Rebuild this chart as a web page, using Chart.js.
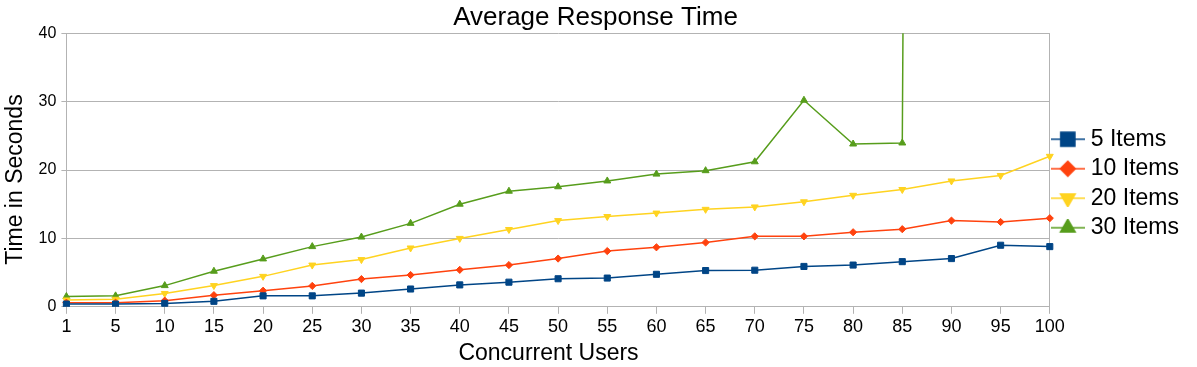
<!DOCTYPE html>
<html>
<head>
<meta charset="utf-8">
<script src="https://cdn.jsdelivr.net/npm/chart.js@4/dist/chart.umd.min.js"></script>
<style>
    html, body { margin: 0; padding: 0; background: #fff; }
    #wrap { width: 1197px; height: 367px; position: relative; }
</style>
</head>
<body>
<div id="wrap"><canvas id="responseChart"></canvas></div>
<script>
// concurrent users (x categories)
const users = ['1', '5', '10', '15', '20', '25', '30', '35', '40', '45', '50',
               '55', '60', '65', '70', '75', '80', '85', '90', '95', '100'];

// average response time in seconds
const items5  = [0.4, 0.4, 0.5, 0.8, 1.6, 1.6, 2.0, 2.6, 3.2, 3.6, 4.1,
                 4.2, 4.75, 5.3, 5.35, 5.9, 6.1, 6.6, 7.05, 9.0, 8.8];
const items10 = [0.6, 0.6, 0.9, 1.7, 2.35, 3.05, 4.05, 4.65, 5.4, 6.1, 7.05,
                 8.15, 8.7, 9.4, 10.3, 10.3, 10.9, 11.35, 12.6, 12.4, 12.95];
const items20 = [1.0, 1.1, 1.95, 3.1, 4.45, 6.1, 6.9, 8.6, 10.0, 11.3, 12.6,
                 13.2, 13.7, 14.25, 14.6, 15.35, 16.3, 17.15, 18.4, 19.2, 22.0];
// last three points run far off the top of the axis
const items30 = [1.5, 1.6, 3.1, 5.2, 7.0, 8.8, 10.2, 12.2, 15.0, 16.9, 17.55,
                 18.4, 19.4, 19.9, 21.2, 30.2, 23.8, 23.95, 1200, 1300, 1400];

const yTicks = [0, 10, 20, 30, 40];

const gridColor = '#b3b3b3';
const fontFamily = '"Liberation Sans", Arial, sans-serif';

// legend icon: short line with the marker on it (like LibreOffice does)
function legendIcon(color, style, radius, rotation) {
    const c = document.createElement('canvas');
    c.width = 34;
    c.height = 18;
    const g = c.getContext('2d');
    g.strokeStyle = color;
    g.fillStyle = color;
    g.lineWidth = 1.5;
    g.beginPath();
    g.moveTo(0, 9);
    g.lineTo(34, 9);
    g.stroke();
    Chart.helpers.drawPoint(g, { pointStyle: style, radius: radius, rotation: rotation, borderWidth: 1 }, 17, 9);
    return c;
}

function makeSeries(label, data, color, style, radius, rotation, iconRadius) {
    return {
        label: label,
        data: data,
        borderColor: color,
        backgroundColor: color,
        borderWidth: 1.5,
        pointStyle: style,
        pointRadius: radius,
        pointRotation: rotation || 0,
        pointBorderWidth: 1,
        tension: 0,
        icon: legendIcon(color, style, iconRadius, rotation || 0)
    };
}

const ctx = document.getElementById('responseChart').getContext('2d');
new Chart(ctx, {
    type: 'line',
    data: {
        labels: users,
        datasets: [
            makeSeries('5 Items', items5, '#004586', 'rect', 4.3, 0, 10),
            makeSeries('10 Items', items10, '#ff420e', 'rectRot', 3.6, 0, 7.5),
            makeSeries('20 Items', items20, '#ffd320', 'triangle', 4, 180, 8.5),
            makeSeries('30 Items', items30, '#579d1c', 'triangle', 4, 0, 8.5)
        ]
    },
    options: {
        responsive: true,
        maintainAspectRatio: false,
        animation: false,
        layout: { padding: { left: 2, right: 8, top: 0, bottom: 0 } },
        scales: {
            x: {
                grid: {
                    color: c => (c.index === 0 || c.index === users.length - 1) ? gridColor : 'transparent',
                    tickColor: gridColor,
                    tickLength: 7
                },
                border: { color: gridColor },
                ticks: {
                    color: '#000',
                    font: { family: fontFamily, size: 18 },
                    maxRotation: 0,
                    autoSkip: false,
                    padding: 2
                },
                title: {
                    display: true,
                    text: 'Concurrent Users   ',
                    color: '#000',
                    font: { family: fontFamily, size: 23 },
                    padding: { top: 0, bottom: 0 }
                }
            },
            y: {
                min: 0,
                max: 40,
                afterBuildTicks: axis => { axis.ticks = yTicks.map(v => ({ value: v })); },
                grid: { color: gridColor, tickColor: gridColor, tickLength: 5 },
                border: { color: gridColor },
                ticks: {
                    color: '#000',
                    font: { family: fontFamily, size: 16 },
                    padding: 5
                },
                title: {
                    display: true,
                    text: 'Time in Seconds   ',
                    color: '#000',
                    font: { family: fontFamily, size: 23 },
                    padding: { top: 0, bottom: 4 }
                }
            }
        },
        plugins: {
            title: {
                display: true,
                text: 'Average Response Time',
                color: '#000',
                font: { family: fontFamily, size: 26, weight: 'normal' },
                padding: { top: 2, bottom: 0 }
            },
            legend: {
                position: 'right',
                labels: {
                    color: '#000',
                    font: { family: fontFamily, size: 23 },
                    usePointStyle: true,
                    padding: 6.5,
                    generateLabels: chart => {
                        const items = Chart.defaults.plugins.legend.labels.generateLabels(chart);
                        items.forEach(item => {
                            item.pointStyle = chart.data.datasets[item.datasetIndex].icon;
                            item.rotation = 0;
                        });
                        return items;
                    }
                }
            },
            tooltip: { enabled: false }
        }
    }
});
</script>
</body>
</html>
